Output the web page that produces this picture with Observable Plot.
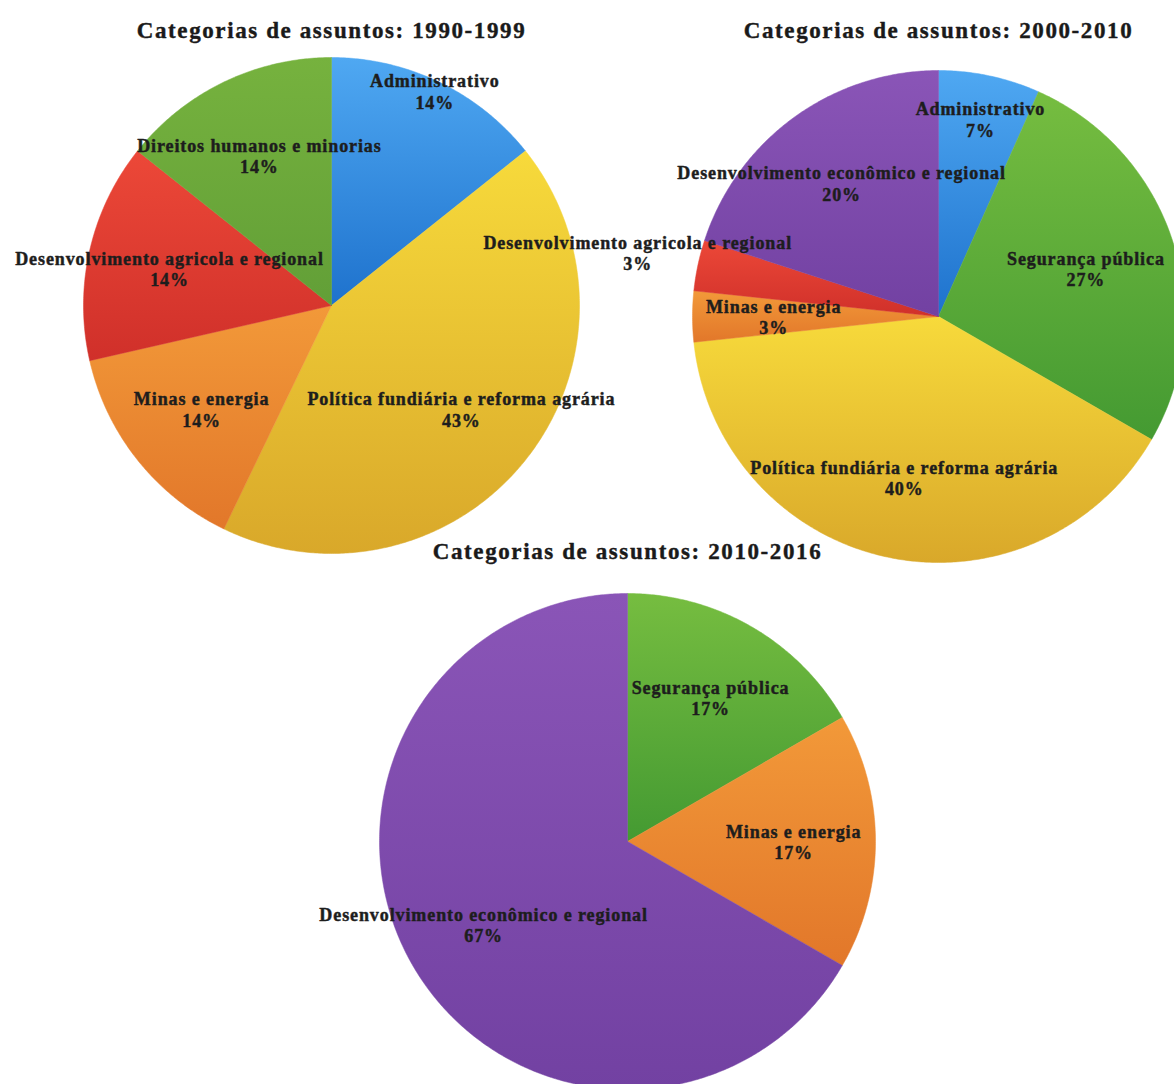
<!DOCTYPE html>
<html>
<head>
<meta charset="utf-8">
<script src="https://cdn.jsdelivr.net/npm/d3@7"></script>
<script src="https://cdn.jsdelivr.net/npm/@observablehq/plot@0.6"></script>
<style>
  html, body { margin: 0; padding: 0; background: #fff; overflow: hidden; }
  #chart svg { display: block; }
  g[font-size="18"] { letter-spacing: 0.9px; }
  g[font-size="23"] { letter-spacing: 1.6px; }
</style>
</head>
<body>
<div id="chart"></div>
<script>
// ---- Data ----
const titles = [
  "Categorias de assuntos: 1990-1999",
  "Categorias de assuntos: 2000-2010",
  "Categorias de assuntos: 2010-2016"
];

const categories1990 = [
  "Administrativo",
  "Política fundiária e reforma agrária",
  "Minas e energia",
  "Desenvolvimento agricola e regional",
  "Direitos humanos e minorias"
];
const values1990 = [1, 3, 1, 1, 1];

const categories2000 = [
  "Administrativo",
  "Segurança pública",
  "Política fundiária e reforma agrária",
  "Minas e energia",
  "Desenvolvimento agricola e regional",
  "Desenvolvimento econômico e regional"
];
const values2000 = [2, 8, 12, 1, 1, 6];

const categories2010 = [
  "Segurança pública",
  "Minas e energia",
  "Desenvolvimento econômico e regional"
];
const values2010 = [1, 1, 4];

const colorCategories = [
  "Administrativo",
  "Segurança pública",
  "Direitos humanos e minorias",
  "Política fundiária e reforma agrária",
  "Minas e energia",
  "Desenvolvimento agricola e regional",
  "Desenvolvimento econômico e regional"
];
const colorNames = ["blue", "green", "olive", "yellow", "orange", "red", "purple"];

// ---- Styles / layout (not data) ----
const gradients = {
  blue:   ["#4fa8f2", "#1e72cd"],
  green:  ["#76bd40", "#449a32"],
  olive:  ["#76b23e", "#629f37"],
  yellow: ["#f7da3b", "#d9a82a"],
  orange: ["#f29939", "#e2772a"],
  red:    ["#ec4838", "#d0302a"],
  purple: ["#8a55b7", "#7241a2"]
};
const layout = [
  {cx: 331, cy: 305, r: 248, ty: 30},
  {cx: 938, cy: 316, r: 246, ty: 30},
  {cx: 627, cy: 841, r: 248, ty: 551}
];
const labelRadius = {
  "0:Administrativo": 0.96,
  "1:Administrativo": 0.82,
  "1:Segurança pública": 0.63,
  "1:Desenvolvimento agricola e regional": 1.25
};
const defaultLabelRadius = 0.67;

// ---- Build geometry from data ----
const pies = [
  {cats: categories1990, vals: values1990},
  {cats: categories2000, vals: values2000},
  {cats: categories2010, vals: values2010}
];
const slicePoints = [];
const labels = [];
pies.forEach((p, i) => {
  const L = layout[i];
  const total = d3.sum(p.vals);
  const arcs = d3.pie().sort(null).value((d, j) => p.vals[j])(p.cats);
  arcs.forEach((a, j) => {
    const cat = p.cats[j];
    const key = i + ":" + cat;
    const n = Math.max(2, Math.ceil((a.endAngle - a.startAngle) / (Math.PI / 360)));
    slicePoints.push({key, cat, x: L.cx, y: L.cy});
    for (let k = 0; k <= n; k++) {
      const t = a.startAngle + (a.endAngle - a.startAngle) * k / n;
      slicePoints.push({key, cat, x: L.cx + L.r * Math.sin(t), y: L.cy - L.r * Math.cos(t)});
    }
    slicePoints.push({key, cat, x: L.cx, y: L.cy});
    const m = (a.startAngle + a.endAngle) / 2;
    const f = labelRadius[key] ?? defaultLabelRadius;
    labels.push({
      x: L.cx + f * L.r * Math.sin(m),
      y: L.cy - f * L.r * Math.cos(m),
      text: cat + "\n" + Math.round(p.vals[j] / total * 100) + "%"
    });
  });
});

const defsMark = () => {
  const defs = d3.create("svg:defs");
  Object.entries(gradients).forEach(([name, [top, bottom]]) => {
    const g = defs.append("linearGradient")
      .attr("id", "grad-" + name)
      .attr("x1", 0).attr("y1", 0).attr("x2", 0).attr("y2", 1);
    g.append("stop").attr("offset", 0).attr("stop-color", top);
    g.append("stop").attr("offset", 1).attr("stop-color", bottom);
  });
  return defs.node();
};

const chart = Plot.plot({
  width: 1174,
  height: 1084,
  margin: 0,
  x: {domain: [0, 1174], range: [0, 1174], axis: null},
  y: {domain: [0, 1084], range: [0, 1084], axis: null},
  color: {domain: colorCategories, range: colorNames.map(c => `url(#grad-${c})`)},
  style: {background: "#fff", overflow: "hidden"},
  marks: [
    defsMark,
    Plot.line(slicePoints, {
      x: "x", y: "y", z: "key",
      fill: "cat", stroke: "cat", strokeWidth: 0.5
    }),
    Plot.text(labels, {
      x: "x", y: "y", text: "text",
      fontFamily: "Liberation Serif", fontWeight: "bold", fontSize: 18,
      lineHeight: 1.2, fill: "#1d1d1d", stroke: "#1d1d1d", strokeWidth: 0.45
    }),
    Plot.text(titles, {
      x: (d, i) => layout[i].cx, y: (d, i) => layout[i].ty, text: d => d,
      fontFamily: "Liberation Serif", fontWeight: "bold", fontSize: 23,
      fill: "#1a1a1a", stroke: "#1a1a1a", strokeWidth: 0.4
    })
  ]
});
document.getElementById("chart").append(chart);
</script>
</body>
</html>
